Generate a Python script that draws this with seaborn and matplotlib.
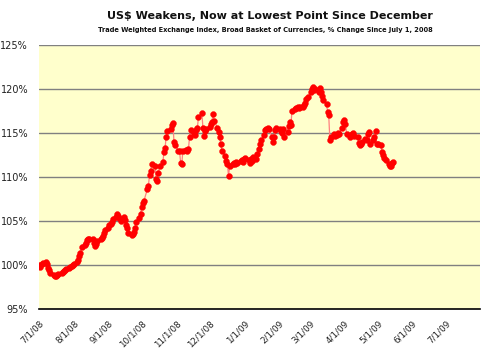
import matplotlib
matplotlib.use("Agg")
import matplotlib.pyplot as plt
import matplotlib.dates as mdates
import numpy as np
import pandas as pd
import seaborn as sns

title = "US$ Weakens, Now at Lowest Point Since December"
subtitle = "Trade Weighted Exchange Index, Broad Basket of Currencies, % Change Since July 1, 2008"

jul08 = [100.0, 99.8, 100.1, 100.2, 100.3, 100.1, 99.7, 99.4, 99.1, 98.9, 98.8, 98.8,
         98.9, 99.0, 99.1, 99.2, 99.3, 99.4, 99.6, 99.7, 99.8, 99.9, 100.0]
aug08 = [100.1, 100.3, 100.6, 101.0, 101.4, 102.1, 102.3, 102.5, 102.8, 103.0, 102.9,
         103.0, 102.5, 102.2, 102.4, 102.7, 102.9, 103.1, 103.3, 103.6, 104.0]
sep08 = [104.2, 104.5, 104.7, 104.9, 105.2, 105.5, 105.8, 105.6, 105.3, 105.0, 105.4,
         105.1, 104.5, 104.2, 103.6, 103.4, 103.5, 103.8, 104.2, 104.9, 105.3, 105.8]
oct08 = [106.6, 107.0, 107.3, 108.6, 109.0, 110.2, 110.7, 111.5, 111.3, 109.8, 109.5,
         110.5, 111.2, 111.7, 112.8, 113.3, 114.6, 115.2, 115.5, 115.9, 116.1, 114.0, 113.6]
nov08 = [113.0, 112.9, 111.6, 111.5, 113.0, 113.1, 113.0, 113.2, 114.6, 115.3, 115.0,
         114.8, 115.3, 115.6, 116.8, 117.3, 115.6, 114.7, 115.2, 115.5]
dec08 = [115.7, 116.0, 116.2, 117.2, 116.4, 115.6, 115.1, 114.5, 113.8, 113.0, 112.4,
         111.8, 111.5, 110.1, 111.3, 111.5, 111.6, 111.5, 111.7, 111.6, 111.8, 111.9, 111.7]
jan09 = [112.0, 112.2, 111.9, 111.6, 112.1, 111.8, 112.3, 112.0, 112.6, 113.2, 113.8,
         114.2, 114.8, 115.3, 115.5, 115.6, 115.4, 114.6, 114.0, 114.5, 115.3, 115.6]
feb09 = [115.5, 115.2, 115.0, 115.4, 114.6, 115.1, 115.8, 116.2, 115.9, 117.5, 117.7,
         117.8, 117.9, 117.8, 118.0, 117.9, 118.2, 118.4, 118.9, 119.1]
mar09 = [119.6, 120.0, 120.2, 119.9, 120.0, 119.7, 120.1, 119.6, 119.2, 118.8, 118.3,
         117.4, 117.0, 114.2, 114.6, 114.9, 114.7, 114.8, 115.0, 114.9, 115.6, 116.3]
apr09 = [116.5, 116.0, 114.9, 114.6, 114.8, 114.9, 115.0, 114.7, 114.6, 113.9, 113.6,
         113.8, 114.0, 114.3, 114.2, 114.9, 115.1, 113.8, 114.2, 114.6, 115.2, 113.8]
may09 = [113.7, 113.6, 112.8, 112.5, 112.2, 111.9, 111.5, 111.2, 111.3, 111.6, 111.7]

values = jul08 + aug08 + sep08 + oct08 + nov08 + dec08 + jan09 + feb09 + mar09 + apr09 + may09
dates = pd.bdate_range("2008-07-01", periods=len(values))
df = pd.DataFrame({"date": dates, "pct": values})

tick_dates = pd.date_range("2008-07-01", "2009-08-01", freq="MS")
tick_labels = [f"{d.month}/1/{d.strftime('%y')}" for d in tick_dates[:-1]] + [""]
y_ticks = [95, 100, 105, 110, 115, 120, 125]

sns.set_style("white")
plt.rcParams["font.family"] = ["DejaVu Sans"]

fig = plt.figure(figsize=(4.85, 3.54), dpi=100)
ax = fig.add_axes([0.081, 0.127, 0.909, 0.746])
ax.set_facecolor("#FFFFCC")

for yv in y_ticks[1:]:
    ax.axhline(yv, color="#808080", lw=1.0, zorder=1)

sns.lineplot(data=df, x="date", y="pct", ax=ax, color="#FF8080", lw=0.9, zorder=2)
sns.scatterplot(data=df, x="date", y="pct", ax=ax, color="#FF0000", s=18,
                edgecolor="#FF0000", linewidth=0.3, zorder=3)

ax.set_xlim(tick_dates[0], tick_dates[-1])
ax.set_ylim(95, 125)
ax.set_yticks(y_ticks)
ax.set_yticklabels([f"{v}%" for v in y_ticks], fontsize=7, color="#222222")
ax.set_xticks(tick_dates)
ax.set_xticklabels(tick_labels, rotation=45, ha="right", rotation_mode="anchor",
                   fontsize=6.3, color="#222222")
ax.tick_params(axis="x", direction="out", length=3, width=1, color="black", pad=4)
ax.tick_params(axis="y", length=0, pad=8)
ax.set_xlabel("")
ax.set_ylabel("")
for s in ["left", "right", "top"]:
    ax.spines[s].set_visible(False)
ax.spines["bottom"].set_color("black")
ax.spines["bottom"].set_linewidth(1.2)

fig.text(0.556, 0.955, title, ha="center", va="center", fontsize=8,
         fontweight="bold", color="#111111")
fig.text(0.547, 0.916, subtitle, ha="center", va="center", fontsize=4.8,
         fontweight="bold", color="#111111")

fig.savefig("out.png", dpi=100)
